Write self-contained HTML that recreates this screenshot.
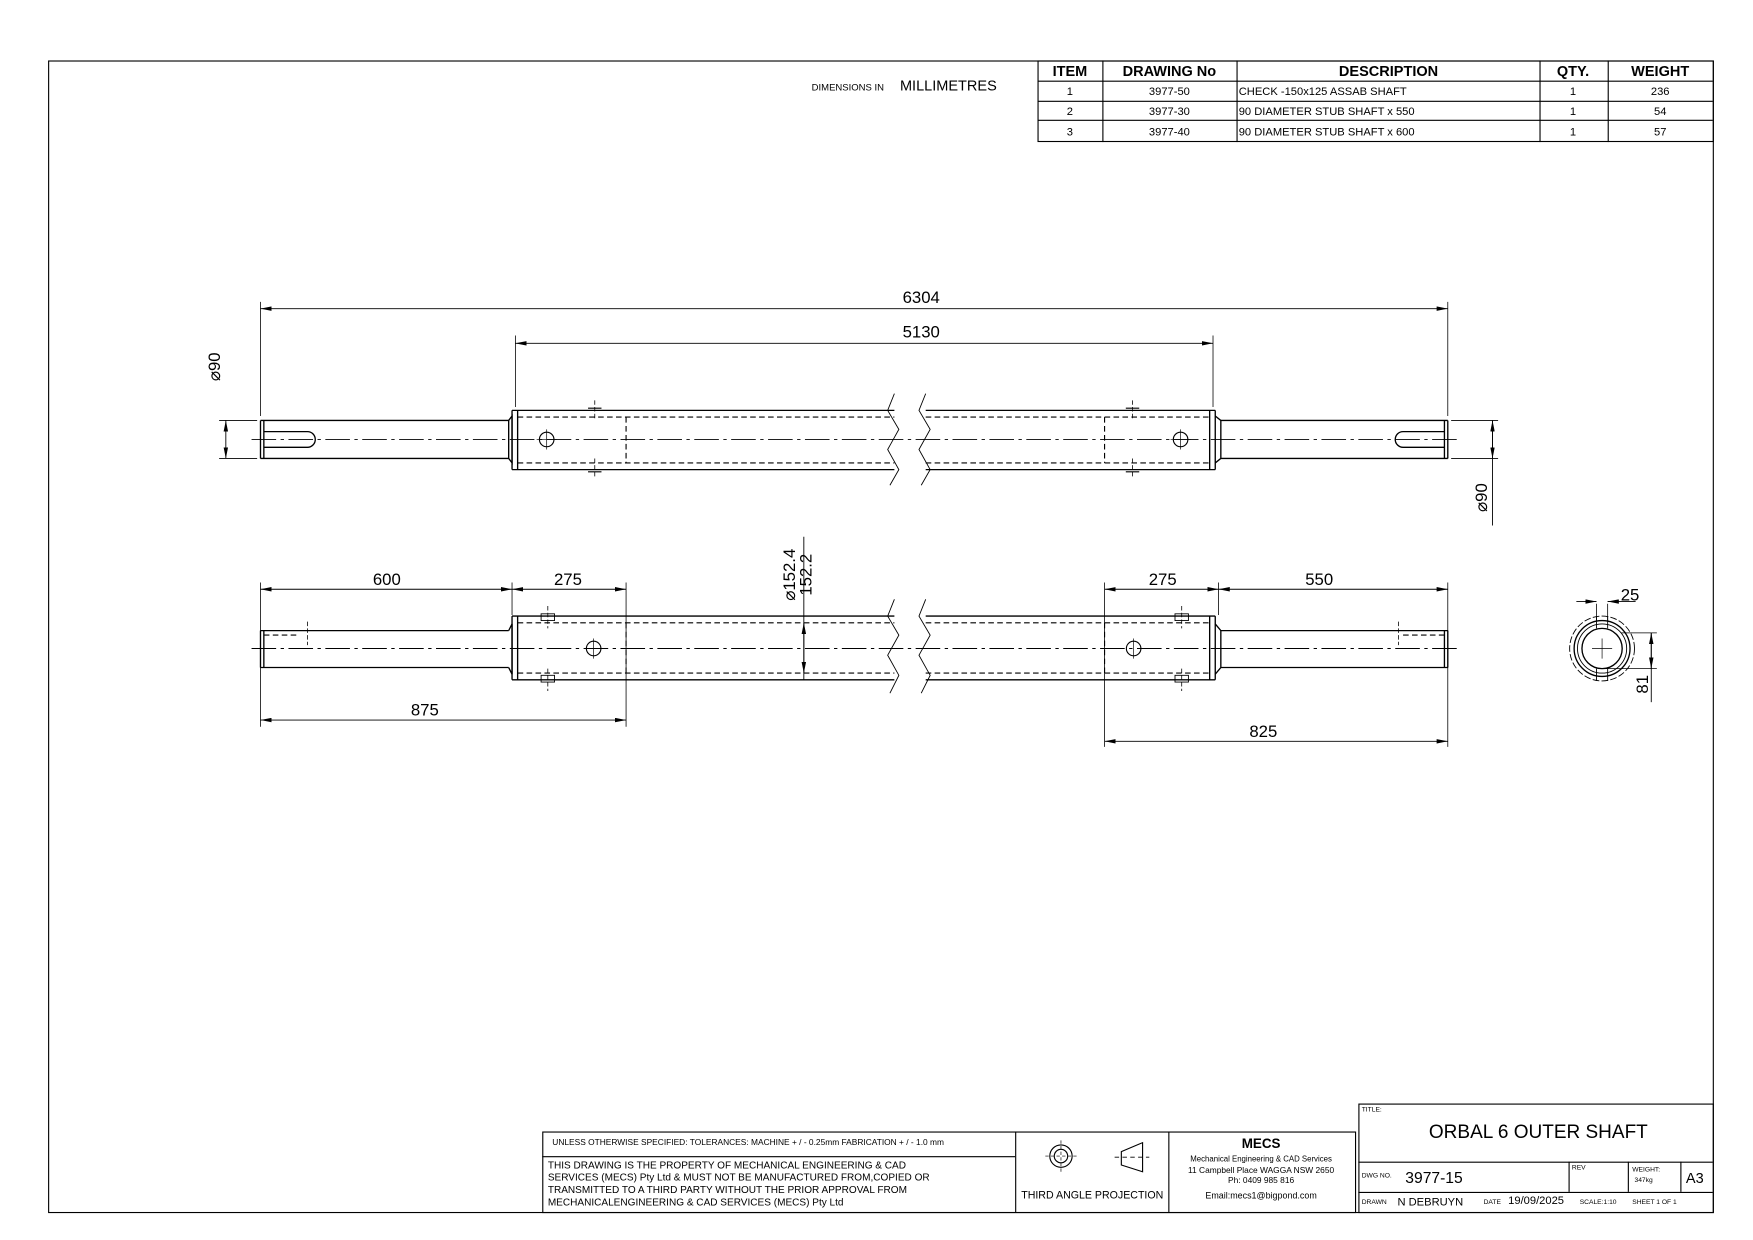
<!DOCTYPE html>
<html><head><meta charset="utf-8"><style>
html,body{margin:0;padding:0;background:#fff;}
svg{display:block;}
text{font-family:"Liberation Sans",sans-serif;fill:#000;}
</style></head><body>
<svg width="1753" height="1240" viewBox="0 0 1568 1109" xmlns="http://www.w3.org/2000/svg">
<defs>
<marker id="a" viewBox="0 0 10 4" refX="10" refY="2" markerWidth="10" markerHeight="4" orient="auto-start-reverse" markerUnits="userSpaceOnUse"><path d="M0,0L10,2L0,4z" fill="#000"/></marker>
</defs>
<g fill="none" stroke="#000" stroke-width="1">
<!-- border -->
<rect x="43.5" y="54.5" width="1489" height="1030"/>
<!-- BOM -->
<rect x="928.5" y="54.5" width="604" height="72"/>
<line x1="928" y1="72.5" x2="1532" y2="72.5"/>
<line x1="928" y1="90.5" x2="1532" y2="90.5"/>
<line x1="928" y1="107.5" x2="1532" y2="107.5"/>
<line x1="986.5" y1="54" x2="986.5" y2="127"/>
<line x1="1106.5" y1="54" x2="1106.5" y2="127"/>
<line x1="1377.5" y1="54" x2="1377.5" y2="127"/>
<line x1="1438.5" y1="54" x2="1438.5" y2="127"/>

<!-- ===== TOP VIEW ===== -->
<g stroke-width="1.2">
<path d="M233,376 H455 M233,410 H455 M233,376 V410 M236,376 V410"/>
<path d="M455,376 L458,372 V414 L455,410 Z"/>
<path d="M458,367 H800 M458,420 H800 M458,367 V420 M463,367 V420"/>
<path d="M828,367 H1087 M828,420 H1087 M1087,367 V420 M1082,367 V420"/>
<path d="M1092,376 H1295 M1092,410 H1295 M1295,376 V410 M1292,376 V410"/>
<path d="M1087,372 L1092,376 V410 L1087,414"/>
<path d="M236,386 H275 A7,7 0 0 1 275,400 H236"/>
<path d="M1292,386 H1255 A7,7 0 0 0 1255,400 H1292"/>
</g>
<path d="M800,352 L794,367 L804,384 L794,402 L804,420 L796,434 M828,352 L822,367 L832,384 L822,402 L832,420 L824,434" stroke-width="0.8"/>
<path d="M463,373 H800 M463,414 H800 M828,373 H1082 M828,414 H1082 M560,373 V414 M988,373 V414" stroke-dasharray="5,3"/>
<circle cx="489" cy="393" r="6.5"/><circle cx="1056" cy="393" r="6.5"/>
<path d="M489,384V402M480,393H498M1056,384V402M1047,393H1065" stroke-width="0.6"/>
<path d="M526,365 h12 M526,422 h12 M1007,365 h12 M1007,422 h12"/>
<path d="M532,358V376M532,410V428M1013,358V376M1013,410V428" stroke-dasharray="4,2" stroke-width="0.7"/>
<path d="M225,393 H1305" stroke-dasharray="22,4,3,4" stroke-width="0.8"/>
<!-- top dims -->
<path d="M233,270V372M1295,270V372M461,300V364M1085,300V364" stroke-width="0.7"/>
<path d="M233,276H1295" marker-start="url(#a)" marker-end="url(#a)" stroke-width="0.8"/>
<path d="M461,307H1085" marker-start="url(#a)" marker-end="url(#a)" stroke-width="0.8"/>
<path d="M196,376H230M196,410H230M1298,376H1340M1298,410H1340" stroke-width="0.7"/>
<path d="M202,376V410" marker-start="url(#a)" marker-end="url(#a)" stroke-width="0.8"/>
<path d="M1335,376V470" stroke-width="0.8"/>
<path d="M1335,376V410" marker-start="url(#a)" marker-end="url(#a)" stroke-width="0.8"/>

<!-- ===== FRONT VIEW ===== -->
<g stroke-width="1.2">
<path d="M233,564 H455 M233,597 H455 M233,564 V597 M236,564 V597"/>
<path d="M455,564 L458,558 V603 L455,597"/>
<path d="M458,551 H800 M458,608 H800 M458,551 V608 M463,551 V608"/>
<path d="M828,551 H1087 M828,608 H1087 M1087,551 V608 M1082,551 V608"/>
<path d="M1092,564 H1295 M1092,597 H1295 M1295,564 V597 M1292,564 V597"/>
<path d="M1087,558 L1092,564 V597 L1087,603"/>
</g>
<path d="M800,536 L794,551 L804,568 L794,586 L804,604 L796,620 M828,536 L822,551 L832,568 L822,586 L832,604 L824,620" stroke-width="0.8"/>
<path d="M463,557 H800 M463,602 H800 M828,557 H1082 M828,602 H1082 M560,557 V602 M988,557 V602 M236,568 H268 M1292,568 H1252" stroke-dasharray="5,3"/>
<path d="M275,556V577M1251,556V577" stroke-dasharray="4,2" stroke-width="0.7"/>
<circle cx="531" cy="580" r="6.5"/><circle cx="1014" cy="580" r="6.5"/>
<path d="M531,571V589M1014,571V589" stroke-width="0.6"/>
<path d="M484,549 h12 v6 h-12z M484,604 h12 v6 h-12z M1051,549 h12 v6 h-12z M1051,604 h12 v6 h-12z" stroke-width="0.8"/>
<path d="M490,542V562M490,598V618M1057,542V562M1057,598V618" stroke-dasharray="4,2" stroke-width="0.7"/>
<path d="M225,580 H1305" stroke-dasharray="22,4,3,4" stroke-width="0.8"/>
<!-- front dims -->
<path d="M233,521V650M458,521V550M560,521V650M988,521V668M1090,521V550M1295,521V668" stroke-width="0.7"/>
<path d="M233,527H458" marker-start="url(#a)" marker-end="url(#a)" stroke-width="0.8"/>
<path d="M458,527H560" marker-start="url(#a)" marker-end="url(#a)" stroke-width="0.8"/>
<path d="M233,644H560" marker-start="url(#a)" marker-end="url(#a)" stroke-width="0.8"/>
<path d="M988,527H1090" marker-start="url(#a)" marker-end="url(#a)" stroke-width="0.8"/>
<path d="M1090,527H1295" marker-start="url(#a)" marker-end="url(#a)" stroke-width="0.8"/>
<path d="M988,663H1295" marker-start="url(#a)" marker-end="url(#a)" stroke-width="0.8"/>
<path d="M719,480V608" stroke-width="0.8"/>
<path d="M719,557V602" marker-start="url(#a)" marker-end="url(#a)" stroke-width="0.8"/>

<!-- end view -->
<circle cx="1433" cy="580" r="29" stroke-dasharray="6,2" stroke-width="0.8"/>
<circle cx="1433" cy="580" r="25" stroke-width="1.2"/>
<circle cx="1433" cy="580" r="22" stroke-width="0.8"/>
<circle cx="1433" cy="580" r="18" stroke-width="1.2"/>
<path d="M1428,551V562M1438,551V562M1428,598V609M1438,598V609" stroke-width="0.8"/>
<path d="M1424,580H1442M1433,571V589" stroke-width="0.6"/>
<path d="M1428,540V555M1438,540V555" stroke-width="0.7"/>
<path d="M1410,538H1428M1438,538H1463" stroke-width="0.8"/>
<path d="M1418,538H1428" marker-end="url(#a)" stroke-width="0.8"/>
<path d="M1448,538H1438" marker-end="url(#a)" stroke-width="0.8"/>
<path d="M1450,566H1482M1435,598H1482" stroke-width="0.7"/>
<path d="M1477,566V628" stroke-width="0.8"/>
<path d="M1477,566V598" marker-start="url(#a)" marker-end="url(#a)" stroke-width="0.8"/>

<!-- title block -->
<rect x="485.5" y="1012.5" width="727" height="72"/>
<line x1="485" y1="1034.5" x2="908" y2="1034.5"/>
<line x1="908.5" y1="1012" x2="908.5" y2="1084"/>
<line x1="1045.5" y1="1012" x2="1045.5" y2="1084"/>
<rect x="1215.5" y="987.5" width="317" height="97"/>
<line x1="1215" y1="1039.5" x2="1532" y2="1039.5"/>
<line x1="1215" y1="1066.5" x2="1532" y2="1066.5"/>
<line x1="1403.5" y1="1039" x2="1403.5" y2="1066"/>
<line x1="1456.5" y1="1039" x2="1456.5" y2="1066"/>
<line x1="1503.5" y1="1039" x2="1503.5" y2="1066"/>
<!-- projection symbols -->
<circle cx="949" cy="1034" r="10"/><circle cx="949" cy="1034" r="6"/>
<path d="M949,1020V1048M935,1034H963" stroke-dasharray="3,2" stroke-width="0.6"/>
<path d="M1003,1030 L1022,1022 V1048 L1003,1042 Z"/>
<path d="M997,1035H1028" stroke-dasharray="4,3" stroke-width="0.8"/>
</g>

<!-- texts -->
<g font-size="11">
<text x="726" y="81" font-size="8.5">DIMENSIONS IN</text>
<text x="805" y="81" font-size="13">MILLIMETRES</text>
<g font-size="13" font-weight="bold" text-anchor="middle">
<text x="957" y="68">ITEM</text><text x="1046" y="68">DRAWING No</text><text x="1242" y="68">DESCRIPTION</text><text x="1407" y="68">QTY.</text><text x="1485" y="68">WEIGHT</text>
</g>
<g text-anchor="middle" font-size="10">
<text x="957" y="85">1</text><text x="1046" y="85">3977-50</text><text x="1407" y="85">1</text><text x="1485" y="85">236</text>
<text x="957" y="103">2</text><text x="1046" y="103">3977-30</text><text x="1407" y="103">1</text><text x="1485" y="103">54</text>
<text x="957" y="121">3</text><text x="1046" y="121">3977-40</text><text x="1407" y="121">1</text><text x="1485" y="121">57</text>
</g>
<g font-size="10">
<text x="1108" y="85">CHECK -150x125 ASSAB SHAFT</text>
<text x="1108" y="103">90 DIAMETER STUB SHAFT x 550</text>
<text x="1108" y="121">90 DIAMETER STUB SHAFT x 600</text>
</g>
<g font-size="15" text-anchor="middle">
<text x="824" y="271">6304</text>
<text x="824" y="302">5130</text>
<text x="346" y="523">600</text>
<text x="508" y="523">275</text>
<text x="380" y="640">875</text>
<text x="1040" y="523">275</text>
<text x="1180" y="523">550</text>
<text x="1130" y="659">825</text>
<text x="1458" y="537">25</text>
<text transform="translate(197,328) rotate(-90)">⌀90</text>
<text transform="translate(1330,445) rotate(-90)">⌀90</text>
<text transform="translate(1474,612) rotate(-90)">81</text>
<text transform="translate(711,514) rotate(-90)">⌀152.4</text>
<text transform="translate(726,514) rotate(-90)" font-size="15">152.2</text>
</g>
<text x="494" y="1024" font-size="7.5">UNLESS OTHERWISE SPECIFIED: TOLERANCES: MACHINE + / - 0.25mm  FABRICATION + / - 1.0 mm</text>
<g font-size="9">
<text x="490" y="1045">THIS DRAWING IS THE PROPERTY OF MECHANICAL ENGINEERING &amp; CAD</text>
<text x="490" y="1056">SERVICES (MECS) Pty Ltd &amp; MUST NOT BE MANUFACTURED FROM,COPIED OR</text>
<text x="490" y="1067">TRANSMITTED TO A THIRD PARTY WITHOUT THE PRIOR APPROVAL FROM</text>
<text x="490" y="1078">MECHANICALENGINEERING &amp; CAD SERVICES (MECS) Pty Ltd</text>
</g>
<text x="977" y="1072" font-size="9.5" text-anchor="middle">THIRD ANGLE PROJECTION</text>
<g text-anchor="middle">
<text x="1128" y="1027" font-size="12" font-weight="bold">MECS</text>
<text x="1128" y="1039" font-size="7">Mechanical Engineering &amp; CAD Services</text>
<text x="1128" y="1049" font-size="7.5">11 Campbell Place WAGGA NSW 2650</text>
<text x="1128" y="1058" font-size="7.5">Ph: 0409 985 816</text>
<text x="1128" y="1072" font-size="8">Email:mecs1@bigpond.com</text>
</g>
<text x="1218" y="994" font-size="6">TITLE:</text>
<text x="1376" y="1018" font-size="17" text-anchor="middle">ORBAL 6 OUTER SHAFT</text>
<text x="1218" y="1053" font-size="6">DWG NO.</text>
<text x="1257" y="1058" font-size="14">3977-15</text>
<text x="1406" y="1046" font-size="6">REV</text>
<text x="1460" y="1048" font-size="6">WEIGHT:</text>
<text x="1462" y="1057" font-size="6">347kg</text>
<text x="1508" y="1058" font-size="13">A3</text>
<text x="1218" y="1077" font-size="6">DRAWN</text>
<text x="1250" y="1078" font-size="10">N DEBRUYN</text>
<text x="1327" y="1077" font-size="6">DATE</text>
<text x="1349" y="1077" font-size="10">19/09/2025</text>
<text x="1413" y="1077" font-size="6">SCALE:1:10</text>
<text x="1460" y="1077" font-size="6">SHEET 1 OF 1</text>
</g>
</svg>
</body></html>
